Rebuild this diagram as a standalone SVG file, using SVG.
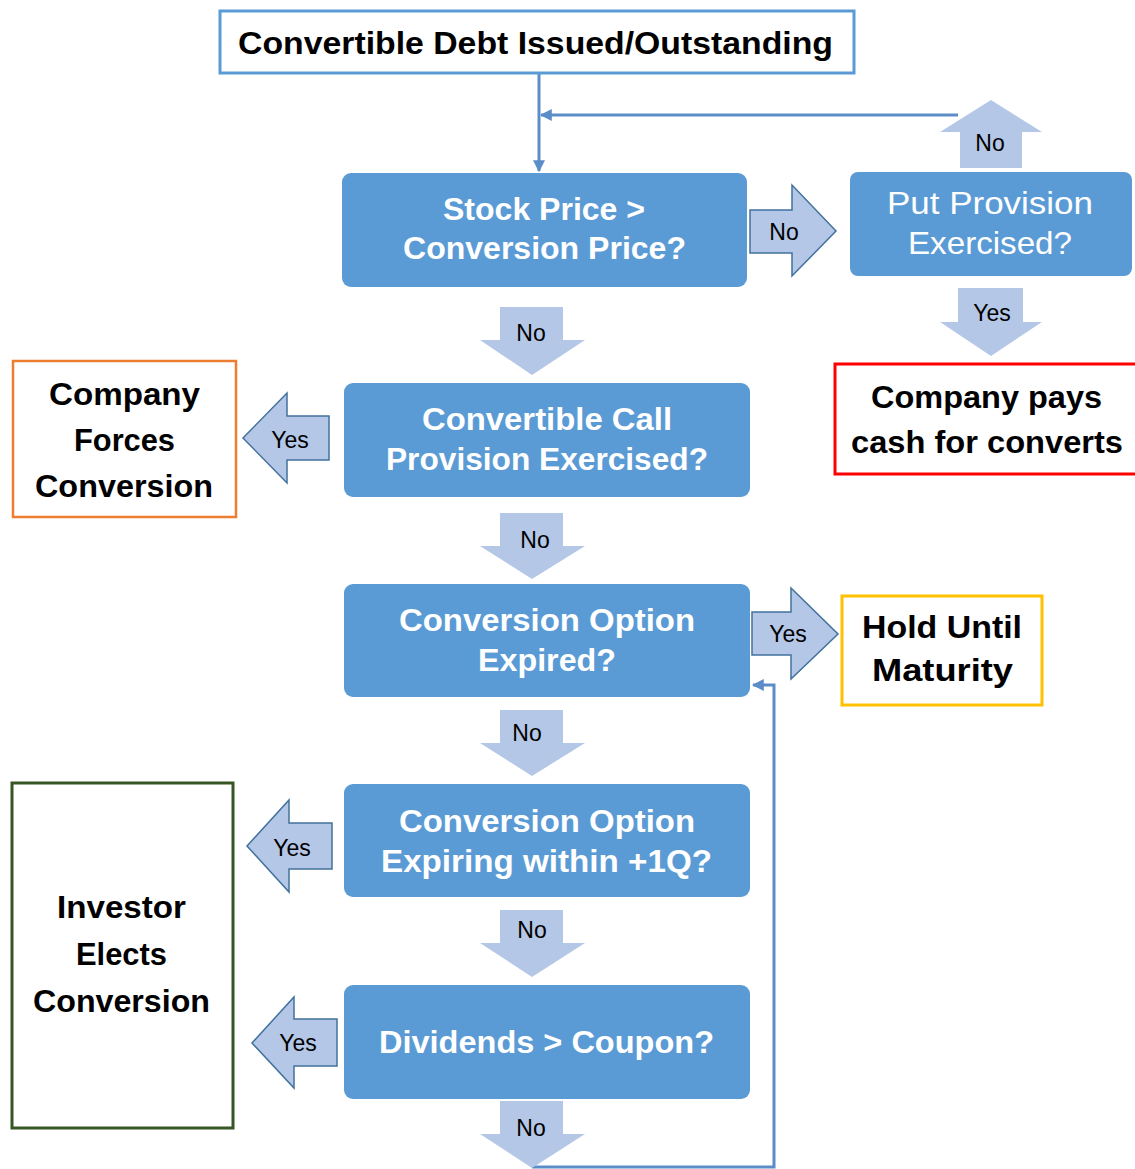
<svg xmlns="http://www.w3.org/2000/svg" width="1135" height="1169" viewBox="0 0 1135 1169">
<style>
.dec{fill:#5b9bd5}
.qt{font-family:"Liberation Sans",Arial,sans-serif;font-weight:bold;font-size:32px;fill:#ffffff}
.qn{font-family:"Liberation Sans",Arial,sans-serif;font-size:32px;fill:#ffffff}
.ot{font-family:"Liberation Sans",Arial,sans-serif;font-weight:bold;font-size:32px;fill:#000000}
.lb{font-family:"Liberation Sans",Arial,sans-serif;font-size:23px;fill:#000000;text-anchor:middle}
.va{fill:#b4c7e7}
.ha{fill:#b4c7e7;stroke:#41719c;stroke-width:1.5}
.cn{fill:none;stroke:#5b8ec9;stroke-width:3}
</style>
<defs>
<marker id="ah" viewBox="0 0 10 10" refX="9" refY="5" markerWidth="4" markerHeight="4" orient="auto" markerUnits="strokeWidth">
<path d="M0,0 L10,5 L0,10 z" fill="#5b8ec9"/>
</marker>
</defs>
<rect width="1135" height="1169" fill="#ffffff"/>

<g id="connectors">
<line class="cn" x1="539" y1="74" x2="539" y2="171" marker-end="url(#ah)"/>
<line class="cn" x1="958" y1="115" x2="541" y2="115" marker-end="url(#ah)"/>
<polyline class="cn" points="532,1167 774,1167 774,685 753,685" marker-end="url(#ah)"/>
<g id="arrow-no-up"><polygon class="va" points="960,168 1022,168 1022,132 1042,132 991,100 940,132 960,132"/><text class="lb" x="990" y="151">No</text></g>
<g id="arrow-no-right"><polygon class="ha" points="750,210 792,210 792,185 836,231 792,276 792,253 750,253"/><text class="lb" x="784" y="240">No</text></g>
<g id="arrow-yes-put"><polygon class="va" points="958,288 1023,288 1023,322 1042,322 991,356 940,322 958,322"/><text class="lb" x="992" y="321">Yes</text></g>
<g id="arrow-no-1"><polygon class="va" points="500,307 563,307 563,340 585,340 532,375 480,340 500,340"/><text class="lb" x="531" y="341">No</text></g>
<g id="arrow-yes-call"><polygon class="ha" points="329,416 287,416 287,393 243,438 287,483 287,460 329,460"/><text class="lb" x="290" y="448">Yes</text></g>
<g id="arrow-no-2"><polygon class="va" points="500,513 563,513 563,546 585,546 532,579 480,546 500,546"/><text class="lb" x="535" y="548">No</text></g>
<g id="arrow-yes-expired"><polygon class="ha" points="752,612 791,612 791,588 838,634 791,679 791,655 752,655"/><text class="lb" x="788" y="642">Yes</text></g>
<g id="arrow-no-3"><polygon class="va" points="500,710 563,710 563,743 585,743 532,776 480,743 500,743"/><text class="lb" x="527" y="741">No</text></g>
<g id="arrow-yes-expiring"><polygon class="ha" points="332,823 289,823 289,800 247,846 289,892 289,869 332,869"/><text class="lb" x="292" y="856">Yes</text></g>
<g id="arrow-no-4"><polygon class="va" points="500,910 563,910 563,943 585,943 532,977 480,943 500,943"/><text class="lb" x="532" y="938">No</text></g>
<g id="arrow-yes-div"><polygon class="ha" points="337,1019 294,1019 294,997 252,1043 294,1088 294,1066 337,1066"/><text class="lb" x="298" y="1051">Yes</text></g>
<g id="arrow-no-5"><polygon class="va" points="500,1101 563,1101 563,1134 585,1134 532,1168 480,1134 500,1134"/><text class="lb" x="531" y="1136">No</text></g>
</g>

<g id="start">
<rect x="220" y="11" width="634" height="62" fill="#ffffff" stroke="#5b9bd5" stroke-width="3"/>
<text class="ot" x="238" y="54" textLength="595" lengthAdjust="spacingAndGlyphs">Convertible Debt Issued/Outstanding</text>
</g>

<g id="stock-price">
<rect class="dec" x="342" y="173" width="405" height="114" rx="9"/>
<text class="qt" x="443" y="220" textLength="202" lengthAdjust="spacingAndGlyphs">Stock Price &gt;</text>
<text class="qt" x="403" y="259" textLength="283" lengthAdjust="spacingAndGlyphs">Conversion Price?</text>
</g>

<g id="put-provision">
<rect class="dec" x="850" y="172" width="282" height="104" rx="8"/>
<text class="qn" x="887" y="214" textLength="206" lengthAdjust="spacingAndGlyphs">Put Provision</text>
<text class="qn" x="908" y="254" textLength="164" lengthAdjust="spacingAndGlyphs">Exercised?</text>
</g>

<g id="company-pays">
<rect x="835" y="364" width="310" height="110" fill="#ffffff" stroke="#ff0000" stroke-width="3"/>
<text class="ot" x="871" y="408" textLength="231" lengthAdjust="spacingAndGlyphs">Company pays</text>
<text class="ot" x="851" y="453" textLength="272" lengthAdjust="spacingAndGlyphs">cash for converts</text>
</g>

<g id="call-provision">
<rect class="dec" x="344" y="383" width="406" height="114" rx="9"/>
<text class="qt" x="422" y="430" textLength="250" lengthAdjust="spacingAndGlyphs">Convertible Call</text>
<text class="qt" x="386" y="470" textLength="322" lengthAdjust="spacingAndGlyphs">Provision Exercised?</text>
</g>

<g id="company-forces">
<rect x="13" y="361" width="223" height="156" fill="#ffffff" stroke="#ed7d31" stroke-width="2.5"/>
<text class="ot" x="49" y="405" textLength="151" lengthAdjust="spacingAndGlyphs">Company</text>
<text class="ot" x="74" y="451" textLength="101" lengthAdjust="spacingAndGlyphs">Forces</text>
<text class="ot" x="35" y="497" textLength="178" lengthAdjust="spacingAndGlyphs">Conversion</text>
</g>

<g id="option-expired">
<rect class="dec" x="344" y="584" width="406" height="113" rx="9"/>
<text class="qt" x="399" y="631" textLength="296" lengthAdjust="spacingAndGlyphs">Conversion Option</text>
<text class="qt" x="478" y="671" textLength="138" lengthAdjust="spacingAndGlyphs">Expired?</text>
</g>

<g id="hold-maturity">
<rect x="842" y="596" width="200" height="109" fill="#ffffff" stroke="#ffc000" stroke-width="3"/>
<text class="ot" x="862" y="638" textLength="160" lengthAdjust="spacingAndGlyphs">Hold Until</text>
<text class="ot" x="872" y="681" textLength="141" lengthAdjust="spacingAndGlyphs">Maturity</text>
</g>

<g id="option-expiring">
<rect class="dec" x="344" y="784" width="406" height="113" rx="9"/>
<text class="qt" x="399" y="832" textLength="296" lengthAdjust="spacingAndGlyphs">Conversion Option</text>
<text class="qt" x="381" y="872" textLength="331" lengthAdjust="spacingAndGlyphs">Expiring within +1Q?</text>
</g>

<g id="investor-elects">
<rect x="12" y="783" width="221" height="345" fill="#ffffff" stroke="#375623" stroke-width="3"/>
<text class="ot" x="57" y="918" textLength="129" lengthAdjust="spacingAndGlyphs">Investor</text>
<text class="ot" x="76" y="965" textLength="91" lengthAdjust="spacingAndGlyphs">Elects</text>
<text class="ot" x="33" y="1012" textLength="177" lengthAdjust="spacingAndGlyphs">Conversion</text>
</g>

<g id="dividends">
<rect class="dec" x="344" y="985" width="406" height="114" rx="9"/>
<text class="qt" x="379" y="1053" textLength="335" lengthAdjust="spacingAndGlyphs">Dividends &gt; Coupon?</text>
</g>
</svg>
